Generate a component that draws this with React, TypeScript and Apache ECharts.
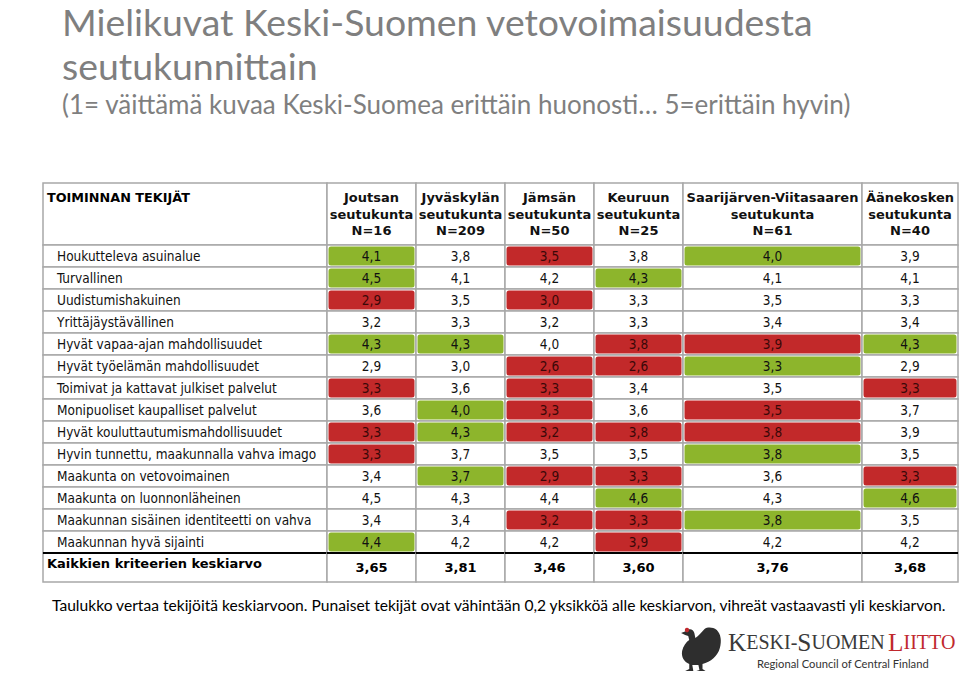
import React, { useEffect, useRef } from "react";
import * as echarts from "echarts";

// ---------- data ----------
const titleLine1 = "Mielikuvat Keski-Suomen vetovoimaisuudesta";
const titleLine2 = "seutukunnittain";
const subtitle = "(1= väittämä kuvaa Keski-Suomea erittäin huonosti… 5=erittäin hyvin)";
const footnote =
  "Taulukko vertaa tekijöitä keskiarvoon. Punaiset tekijät ovat vähintään 0,2 yksikköä alle keskiarvon, vihreät vastaavasti yli keskiarvon.";
const cornerHeader = "TOIMINNAN TEKIJÄT";
const summaryLabel = "Kaikkien kriteerien keskiarvo";

const regionNames = ["Joutsan", "Jyväskylän", "Jämsän", "Keuruun", "Saarijärven-Viitasaaren", "Äänekosken"];
const regionN = [16, 209, 50, 25, 61, 40];

const factors = [
  "Houkutteleva asuinalue",
  "Turvallinen",
  "Uudistumishakuinen",
  "Yrittäjäystävällinen",
  "Hyvät vapaa-ajan mahdollisuudet",
  "Hyvät työelämän mahdollisuudet",
  "Toimivat ja kattavat julkiset palvelut",
  "Monipuoliset kaupalliset palvelut",
  "Hyvät kouluttautumismahdollisuudet",
  "Hyvin tunnettu, maakunnalla vahva imago",
  "Maakunta on vetovoimainen",
  "Maakunta on luonnonläheinen",
  "Maakunnan sisäinen identiteetti on vahva",
  "Maakunnan hyvä sijainti",
];

const joutsan = [4.1, 4.5, 2.9, 3.2, 4.3, 2.9, 3.3, 3.6, 3.3, 3.3, 3.4, 4.5, 3.4, 4.4];
const jyvaskyla = [3.8, 4.1, 3.5, 3.3, 4.3, 3.0, 3.6, 4.0, 4.3, 3.7, 3.7, 4.3, 3.4, 4.2];
const jamsa = [3.5, 4.2, 3.0, 3.2, 4.0, 2.6, 3.3, 3.3, 3.2, 3.5, 2.9, 4.4, 3.2, 4.2];
const keuruu = [3.8, 4.3, 3.3, 3.3, 3.8, 2.6, 3.4, 3.6, 3.8, 3.5, 3.3, 4.6, 3.3, 3.9];
const saarijarvi = [4.0, 4.1, 3.5, 3.4, 3.9, 3.3, 3.5, 3.5, 3.8, 3.8, 3.6, 4.3, 3.8, 4.2];
const aanekoski = [3.9, 4.1, 3.3, 3.4, 4.3, 2.9, 3.3, 3.7, 3.9, 3.5, 3.3, 4.6, 3.5, 4.2];
const averages = [3.65, 3.81, 3.46, 3.6, 3.76, 3.68];

// 1 = green (above), -1 = red (below), 0 = neutral
const joutsanFlag = [1, 1, -1, 0, 1, 0, -1, 0, -1, -1, 0, 0, 0, 1];
const jyvaskylaFlag = [0, 0, 0, 0, 1, 0, 0, 1, 1, 0, 1, 0, 0, 0];
const jamsaFlag = [-1, 0, -1, 0, 0, -1, -1, -1, -1, 0, -1, 0, -1, 0];
const keuruuFlag = [0, 1, 0, 0, -1, -1, 0, 0, -1, 0, -1, 1, -1, -1];
const saarijarviFlag = [1, 0, 0, 0, -1, 1, 0, -1, -1, 1, 0, 0, 1, 0];
const aanekoskiFlag = [0, 0, 0, 0, 1, 0, -1, 0, 0, 0, -1, 1, 0, 0];

const columnValues = [joutsan, jyvaskyla, jamsa, keuruu, saarijarvi, aanekoski];
const columnFlags = [joutsanFlag, jyvaskylaFlag, jamsaFlag, keuruuFlag, saarijarviFlag, aanekoskiFlag];

// ---------- layout ----------
const colEdges = [0, 284, 373, 462, 551, 640, 819, 915];
const HEADER_H = 62;
const ROW_H = 22;
const SUMMARY_H = 29;
const TABLE_H = HEADER_H + ROW_H * factors.length + SUMMARY_H;

const GREEN = "#8db52c";
const RED = "#c2292a";
const GRID = "#a8a8a8";
const TABLE_FONT = '"DejaVu Sans Condensed", "DejaVu Sans", sans-serif';
const HEAD_FONT = '"DejaVu Sans", sans-serif';

type Cell = {
  x0: number; y0: number; x1: number; y1: number;
  text: string; kind: string; flag: number;
};

function fmt(v: number, d: number) {
  return v.toFixed(d).replace(".", ",");
}

function buildCells(): Cell[] {
  const cells: Cell[] = [];
  cells.push({ x0: 0, y0: 0, x1: colEdges[1], y1: HEADER_H, text: cornerHeader, kind: "corner", flag: 0 });
  regionNames.forEach((name, i) => {
    cells.push({
      x0: colEdges[i + 1], x1: colEdges[i + 2], y0: 0, y1: HEADER_H,
      text: `${name}\nseutukunta\nN=${regionN[i]}`, kind: "head", flag: 0,
    });
  });
  factors.forEach((f, r) => {
    const y0 = HEADER_H + r * ROW_H;
    cells.push({ x0: 0, x1: colEdges[1], y0, y1: y0 + ROW_H, text: f, kind: "label", flag: 0 });
    columnValues.forEach((vals, c) => {
      cells.push({
        x0: colEdges[c + 1], x1: colEdges[c + 2], y0, y1: y0 + ROW_H,
        text: fmt(vals[r], 1), kind: "value", flag: columnFlags[c][r],
      });
    });
  });
  const ys = HEADER_H + ROW_H * factors.length;
  cells.push({ x0: 0, x1: colEdges[1], y0: ys, y1: ys + SUMMARY_H, text: summaryLabel, kind: "sumlabel", flag: 0 });
  averages.forEach((a, c) => {
    cells.push({
      x0: colEdges[c + 1], x1: colEdges[c + 2], y0: ys, y1: ys + SUMMARY_H,
      text: fmt(a, 2), kind: "sum", flag: 0,
    });
  });
  return cells;
}

const birdPath =
  "M9 5 L4 7 L8 9 L11 10 L12 14 C9 16 6 20 5 25 C4 31 7 36 12 38 L12 43 L8 45 L16 45 L15 39 L21 39 L22 44 L19 45 L28 45 L25 43 L25 38 C33 36 40 30 42 22 C44 15 43 8 39 4 C35 1 30 1 27 3 C24 6 21 10 18 12 L17 7 C16 3 12 2 9 5 Z";

echarts.graphic.registerShape("bird", echarts.graphic.extendPath(birdPath, {}) as any);

export default function App() {
  const ref = useRef<HTMLDivElement>(null);
  useEffect(() => {
    if (!ref.current) return;
    const chart = echarts.init(ref.current, null, { renderer: "svg" });
    const cells = buildCells();

    const renderItem = (params: any, api: any) => {
      const cell = cells[params.dataIndex];
      const p0 = api.coord([cell.x0, cell.y0]);
      const p1 = api.coord([cell.x1, cell.y1]);
      const x = p0[0];
      const y = p0[1];
      const w = p1[0] - p0[0];
      const h = p1[1] - p0[1];
      const children: any[] = [];
      children.push({
        type: "rect",
        shape: { x, y, width: w, height: h },
        style: { fill: "#fff", stroke: GRID, lineWidth: 1.5 },
      });
      if (cell.flag !== 0) {
        children.push({
          type: "rect",
          shape: { x: x + 1.5, y: y + 1.5, width: w - 3, height: h - 3, r: 2.5 },
          style: { fill: cell.flag > 0 ? GREEN : RED },
        });
      }
      if (cell.kind === "corner") {
        children.push({
          type: "text",
          style: {
            text: cell.text, x: x + 4, y: y + 14, align: "left", verticalAlign: "middle",
            fill: "#000", fontFamily: HEAD_FONT, fontWeight: "bold", fontSize: 12.8,
          },
        });
      } else if (cell.kind === "head") {
        children.push({
          type: "text",
          style: {
            text: cell.text, x: x + w / 2, y: y + h / 2, align: "center", verticalAlign: "middle",
            fill: "#111", fontFamily: HEAD_FONT, fontWeight: "bold", fontSize: 13, lineHeight: 16.5,
          },
        });
      } else if (cell.kind === "label") {
        children.push({
          type: "text",
          style: {
            text: cell.text, x: x + 14, y: y + h / 2, align: "left", verticalAlign: "middle",
            fill: "#111", fontFamily: TABLE_FONT, fontSize: 13.5,
          },
        });
      } else if (cell.kind === "value") {
        children.push({
          type: "text",
          style: {
            text: cell.text, x: x + w / 2, y: y + h / 2, align: "center", verticalAlign: "middle",
            fill: cell.flag < 0 ? "#3a0808" : "#111", fontFamily: TABLE_FONT, fontSize: 13.5,
          },
        });
      } else if (cell.kind === "sumlabel" || cell.kind === "sum") {
        children.push({
          type: "line",
          shape: { x1: x, y1: y, x2: x + w, y2: y },
          style: { stroke: "#000", lineWidth: 2.2 },
        });
        const isLabel = cell.kind === "sumlabel";
        children.push({
          type: "text",
          style: {
            text: cell.text,
            x: isLabel ? x + 4 : x + w / 2,
            y: isLabel ? y + h / 2 - 4 : y + h / 2,
            align: isLabel ? "left" : "center",
            verticalAlign: "middle",
            fill: "#000", fontFamily: HEAD_FONT, fontWeight: "bold", fontSize: 13,
          },
        });
      }
      return { type: "group", children };
    };

    const option: any = {
      animation: false,
      backgroundColor: "#fff",
      grid: { left: 43, top: 183, width: colEdges[colEdges.length - 1], height: TABLE_H },
      xAxis: { type: "value", min: 0, max: colEdges[colEdges.length - 1], show: false },
      yAxis: { type: "value", min: 0, max: TABLE_H, inverse: true, show: false },
      series: [
        {
          type: "custom",
          renderItem,
          data: cells.map((c) => [c.x0, c.y0, c.x1, c.y1]),
          encode: { x: [0, 2], y: [1, 3] },
          clip: false,
          silent: true,
        },
      ],
      graphic: [
        {
          type: "text", left: 62, top: 1,
          style: { text: titleLine1, fill: "#7f7f7f", fontFamily: "Lato, sans-serif", fontSize: 37.4, lineHeight: 40 },
        },
        {
          type: "text", left: 62, top: 47,
          style: { text: titleLine2, fill: "#7f7f7f", fontFamily: "Lato, sans-serif", fontSize: 37.4 },
        },
        {
          type: "text", left: 62, top: 91,
          style: { text: subtitle, fill: "#7f7f7f", fontFamily: "Lato, sans-serif", fontSize: 26 },
        },
        {
          type: "text", left: 52, top: 597,
          style: { text: footnote, fill: "#000", fontFamily: "Lato, sans-serif", fontSize: 15.6 },
        },
        {
          type: "bird", x: 677, y: 626, scaleX: 1.02, scaleY: 1,
          style: { fill: "#2e2e2e" },
        },
        { type: "circle", shape: { cx: 687, cy: 630, r: 2.2 }, style: { fill: "#c0282d" } },
        {
          type: "text", left: 728, top: 629,
          style: {
            text: "{a|K}{b|ESKI-}{a|S}{b|UOMEN} {c|L}{d|IITTO}",
            rich: {
              a: { fontFamily: "Liberation Serif, serif", fontSize: 25.3, fill: "#3a3a3a" },
              b: { fontFamily: "Liberation Serif, serif", fontSize: 20, fill: "#3a3a3a" },
              c: { fontFamily: "Liberation Serif, serif", fontSize: 25.3, fill: "#c0282d" },
              d: { fontFamily: "Liberation Serif, serif", fontSize: 20, fill: "#c0282d" },
            },
          },
        },
        {
          type: "text", left: 757, top: 658,
          style: {
            text: "Regional Council of Central Finland", fill: "#333",
            fontFamily: "Lato, sans-serif", fontSize: 11.2,
          },
        },
      ],
    };
    chart.setOption(option);
    return () => chart.dispose();
  }, []);
  return (
    <div
      ref={ref}
      style={{ position: "fixed", left: 0, top: 0, width: 960, height: 677, background: "#fff" }}
    />
  );
}
